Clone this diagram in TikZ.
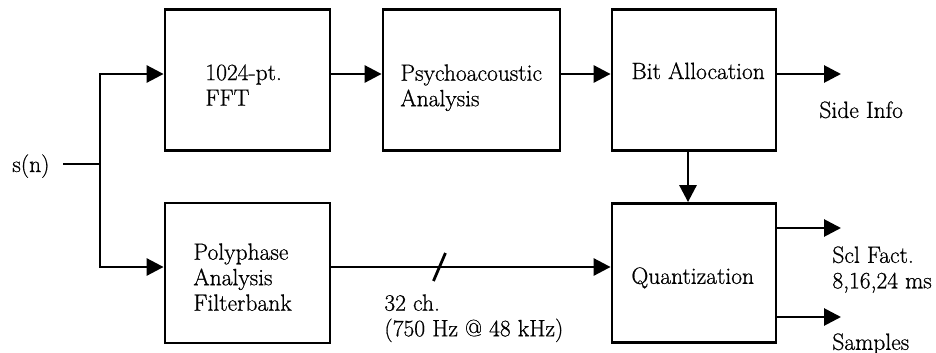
\documentclass[tikz,border=0pt]{standalone}
\usepackage{fontspec}
\setmainfont{Latin Modern Roman}[FakeBold=0.7]
\usetikzlibrary{arrows.meta}

\begin{document}
\begin{tikzpicture}[x=1pt,y=-1pt,line width=2.8pt,
  every node/.style={font=\fontsize{23.5}{25.5}\selectfont},
  block/.style={draw,inner sep=0pt,minimum height=141pt},
  txt/.style={inner sep=0pt,align=left,anchor=north west},
  flow/.style={-{Triangle[length=17pt,width=17pt]}}]
\useasboundingbox (0,0) rectangle (936,353);

% blocks
\node[block,minimum width=165pt] (fft) at (247.5,80) {};
\node[block,minimum width=177pt] (psy) at (471.5,80) {};
\node[block,minimum width=164pt] (bit) at (694,80) {};
\node[block,minimum width=165pt,minimum height=140pt] (poly) at (247.5,273) {};
\node[block,minimum width=164pt,minimum height=139pt] (quant) at (694,273) {};

\node[txt] (fftT) at (204,63) {1024-pt.\\FFT};
\node[txt] (psyT) at (399,63) {Psychoacoustic\\Analysis};
\node[txt] (bitT) at (630,61) {Bit Allocation};
\node[txt] (polyT) at (192,242) {Polyphase\\Analysis\\Filterbank};
\node[txt] (quantT) at (630,266) {Quantization};

% input and outputs
\node[txt] (sn) at (11,153) {s(n)};
\coordinate (in) at (63,164);
\coordinate (split) at (100,164);
\coordinate (side) at (841,74);
\coordinate (scl) at (841,228);
\coordinate (smp) at (841,317);
\node[txt] (sideT) at (818,100) {Side Info};
\node[txt] (sclT) at (831,245) {Scl Fact.\\8,16,24 ms};
\node[txt] (smpT) at (831,332) {Samples};
\node[txt] (chT) at (383,293) {32 ch.\\(750 Hz @ 48 kHz)};

\draw (in) -- (split);
\draw[flow] (split) |- ([yshift=6pt]fft.west);
\draw[flow] (split) |- ([yshift=6pt]poly.west);
\draw[flow] ([yshift=6pt]fft.east) -- ([yshift=6pt]psy.west);
\draw[flow] ([yshift=6pt]psy.east) -- ([yshift=6pt]bit.west);
\draw[flow] (bit.east |- side) -- (side);
\draw[flow] ([xshift=-6pt]bit.south) -- ([xshift=-6pt]quant.north);
\draw[flow] ([yshift=6pt]poly.east) -- coordinate[pos=0.387] (bus) ([yshift=6pt]quant.west);
\draw[flow] (quant.east |- scl) -- (scl);
\draw[flow] (quant.east |- smp) -- (smp);
\draw ([shift={(-6,14)}]bus) -- ([shift={(6,-14)}]bus);
\end{tikzpicture}
\end{document}
